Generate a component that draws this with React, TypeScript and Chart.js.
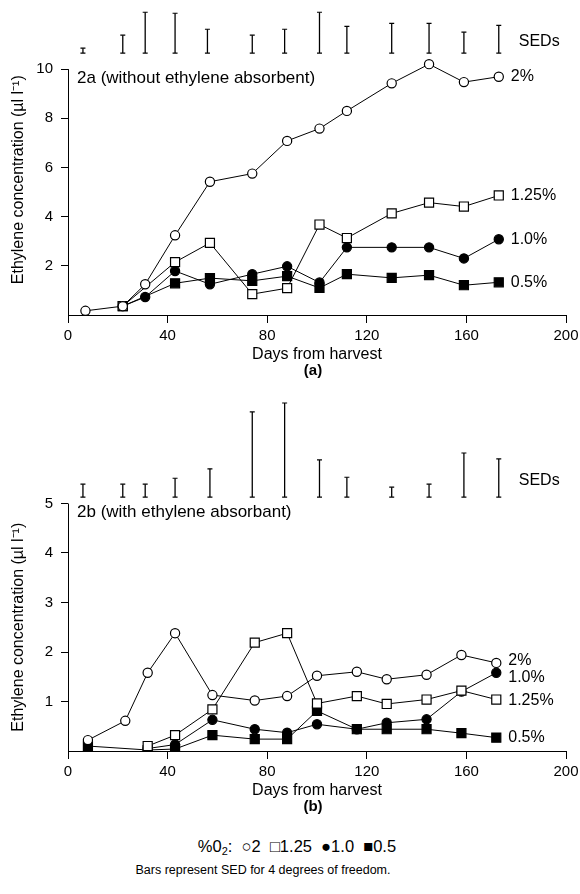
import React, { useEffect, useRef } from "react";
import { Chart, registerables } from "chart.js";
Chart.register(...registerables);

const FONT = '"Liberation Sans", Arial, Helvetica, sans-serif';

// ---------------- data ----------------
const xTickValues = [0, 40, 80, 120, 160, 200];
const topYTickValues = [2, 4, 6, 8, 10];
const bottomYTickValues = [1, 2, 3, 4, 5];

const seriesNames = ["2%", "1.25%", "1.0%", "0.5%"];

// Panel 2a (without ethylene absorbent)
const topDays = [7, 22, 31, 43, 57, 74, 88, 101, 112, 130, 145, 159, 173];
const top2 = [0.17, 0.36, 1.25, 3.24, 5.42, 5.75, 7.08, 7.58, 8.3, 9.42, 10.2, 9.47, 9.69];
const top125 = [null, 0.36, null, 2.15, 2.93, 0.85, 1.09, 3.68, 3.13, 4.13, 4.57, 4.41, 4.86];
const top10 = [null, 0.36, 0.73, 1.79, 1.25, 1.66, 1.98, 1.32, 2.75, 2.75, 2.75, 2.3, 3.08];
const top05 = [null, 0.36, null, 1.29, 1.5, 1.39, 1.58, 1.1, 1.66, 1.51, 1.62, 1.21, 1.33];
const topSedDays = [6, 22, 31, 43, 56, 74, 87, 101, 112, 130, 145, 159, 173];
const topSed = [0.2, 0.73, 1.66, 1.62, 0.97, 0.73, 0.97, 1.66, 1.09, 1.21, 1.21, 0.85, 1.13];
const topSedBase = 10.65;

// Panel 2b (with ethylene absorbant)
const bottomDays = [8, 23, 32, 43, 58, 75, 88, 100, 116, 128, 144, 158, 172];
const bottom2 = [0.22, 0.61, 1.58, 2.38, 1.13, 1.02, 1.11, 1.52, 1.6, 1.45, 1.54, 1.94, 1.78];
const bottom125 = [null, null, 0.1, 0.32, 0.84, 2.19, 2.38, 0.96, 1.11, 0.95, 1.04, 1.22, 1.04];
const bottom10 = [null, null, 0.05, 0.13, 0.63, 0.44, 0.37, 0.54, 0.44, 0.57, 0.64, 1.2, 1.58];
const bottom05 = [0.1, null, 0.02, 0.04, 0.32, 0.24, 0.24, 0.81, 0.44, 0.44, 0.44, 0.36, 0.27];
const bottomSedDays = [6, 22, 31, 43, 57, 74, 87, 101, 112, 130, 145, 159, 173];
const bottomSed = [0.26, 0.26, 0.26, 0.38, 0.57, 1.72, 1.9, 0.75, 0.4, 0.2, 0.26, 0.89, 0.77];
const bottomSedBase = 5.13;

// ---------------- helpers ----------------
function pts(days: number[], vals: (number | null)[]) {
  return days.map((d, i) => ({ x: d, y: vals[i] }));
}
function sedPts(days: number[], seds: number[], base: number) {
  const out: { x: number; y: number | null }[] = [];
  days.forEach((d, i) => {
    out.push({ x: d, y: base }, { x: d, y: base + seds[i] }, { x: d, y: null });
  });
  return out;
}

const decorPlugin = {
  id: "decor",
  beforeDatasetsDraw(chart: any, _a: any, opts: any) {
    const { ctx, scales, chartArea } = chart;
    const y = scales.y;
    ctx.save();
    ctx.strokeStyle = "#000";
    ctx.lineWidth = 1;
    const ax = Math.round(chartArea.left) + 0.5;
    ctx.beginPath();
    ctx.moveTo(ax, y.getPixelForValue(0));
    ctx.lineTo(ax, y.getPixelForValue(opts.axisTop));
    ctx.stroke();
    ctx.restore();
  },
  afterDatasetsDraw(chart: any, _a: any, opts: any) {
    const { ctx, scales, chartArea } = chart;
    const x = scales.x;
    const y = scales.y;
    ctx.save();
    ctx.fillStyle = "#000";
    ctx.textAlign = "left";
    ctx.textBaseline = "middle";
    // panel label
    ctx.font = `17px ${FONT}`;
    ctx.fillText(opts.panelLabel, chartArea.left + 9, y.getPixelForValue(opts.axisTop) + 9);
    // end labels
    ctx.font = `16px ${FONT}`;
    chart.data.datasets.forEach((ds: any) => {
      if (!ds.endLabel) return;
      const valid = ds.data.filter((p: any) => p.y != null);
      const last = valid[valid.length - 1];
      ctx.fillText(ds.endLabel, x.getPixelForValue(last.x) + 12, y.getPixelForValue(last.y) + (ds.endLabelDy || 0));
    });
    // SEDs label
    const lastSedDay = opts.sedDays[opts.sedDays.length - 1];
    ctx.fillText("SEDs", x.getPixelForValue(lastSedDay) + 20, y.getPixelForValue(opts.sedBase) + opts.sedLabelDy);
    // y title
    ctx.translate(opts.yTitleX, y.getPixelForValue(opts.yTitleCenter));
    ctx.rotate(-Math.PI / 2);
    ctx.textAlign = "center";
    ctx.font = `16px ${FONT}`;
    ctx.fillText("Ethylene concentration (µl l⁻¹)", 0, 0);
    ctx.restore();
  },
};

type PanelProps = {
  top: number;
  height: number;
  padTop: number;
  yMax: number;
  yTicks: number[];
  axisTop: number;
  days: number[];
  series: (number | null)[][];
  endDy: number[];
  sedDays: number[];
  sed: number[];
  sedBase: number;
  sedLabelDy: number;
  panelLabel: string;
  yTitleCenter: number;
};

function Panel(p: PanelProps) {
  const ref = useRef<HTMLCanvasElement | null>(null);
  useEffect(() => {
    if (!ref.current) return;
    const styles = [
      { pointStyle: "circle", bg: "#fff", r: 4.6 },
      { pointStyle: "rect", bg: "#fff", r: 6.4 },
      { pointStyle: "circle", bg: "#000", r: 4.6 },
      { pointStyle: "rect", bg: "#000", r: 6.4 },
    ];
    const datasets: any[] = p.series.map((vals, i) => ({
      type: "line",
      data: pts(p.days, vals),
      borderColor: "#000",
      borderWidth: 1,
      pointStyle: styles[i].pointStyle,
      pointRadius: styles[i].r,
      pointBackgroundColor: styles[i].bg,
      pointBorderColor: "#000",
      pointBorderWidth: 1.2,
      spanGaps: true,
      tension: 0,
      endLabel: seriesNames[i],
      endLabelDy: p.endDy[i],
    }));
    datasets.push({
      type: "line",
      data: sedPts(p.sedDays, p.sed, p.sedBase),
      borderColor: "#000",
      borderWidth: 1.3,
      pointStyle: "line",
      pointRadius: 2.5,
      pointBorderColor: "#000",
      pointBorderWidth: 1.2,
      spanGaps: false,
    });
    const chart = new Chart(ref.current, {
      type: "line",
      data: { datasets },
      plugins: [decorPlugin],
      options: {
        responsive: false,
        maintainAspectRatio: false,
        animation: false,
        events: [],
        layout: { padding: { top: p.padTop, left: 0, right: 14, bottom: 0 } },
        plugins: {
          legend: { display: false },
          tooltip: { enabled: false },
          decor: {
            axisTop: p.axisTop,
            panelLabel: p.panelLabel,
            sedDays: p.sedDays,
            sedBase: p.sedBase,
            sedLabelDy: p.sedLabelDy,
            yTitleX: 19,
            yTitleCenter: p.yTitleCenter,
          },
        } as any,
        scales: {
          x: {
            type: "linear",
            min: 0,
            max: 200,
            afterBuildTicks: (s: any) => {
              s.ticks = xTickValues.map((v) => ({ value: v }));
            },
            afterFit: (s: any) => {
              s.height = 50;
              s.paddingLeft = 0;
              s.paddingRight = 0;
            },
            grid: { drawOnChartArea: false, drawTicks: true, tickLength: 8, color: "#000", lineWidth: 1 },
            border: { display: true, color: "#000", width: 1 },
            ticks: { font: { family: FONT, size: 15 }, color: "#000", padding: 4, maxRotation: 0, autoSkip: false },
            title: {
              display: true,
              text: "Days from harvest",
              font: { family: FONT, size: 16 },
              color: "#000",
              padding: { top: 0, bottom: 1 },
            },
          },
          y: {
            type: "linear",
            min: 0,
            max: p.yMax,
            afterBuildTicks: (s: any) => {
              s.ticks = p.yTicks.map((v) => ({ value: v }));
            },
            afterFit: (s: any) => {
              s.width = 68;
              s.paddingTop = 0;
              s.paddingBottom = 0;
            },
            grid: { drawOnChartArea: false, drawTicks: true, tickLength: 7, color: "#000", lineWidth: 1 },
            border: { display: false },
            ticks: { font: { family: FONT, size: 15 }, color: "#000", padding: 8 },
          },
        },
      } as any,
    });
    return () => chart.destroy();
  }, []);
  return (
    <canvas
      ref={ref}
      width={580}
      height={p.height}
      style={{ position: "absolute", left: 0, top: p.top, width: 580, height: p.height, display: "block" }}
    />
  );
}

const textStyle: React.CSSProperties = {
  position: "absolute",
  fontFamily: FONT,
  color: "#000",
  whiteSpace: "nowrap",
  textAlign: "center",
};

export default function App() {
  return (
    <div style={{ position: "absolute", left: 0, top: 0, width: 580, height: 894, background: "#fff", overflow: "hidden" }}>
      <Panel
        top={0}
        height={365}
        padTop={6.25}
        yMax={12.5}
        yTicks={topYTickValues}
        axisTop={10}
        days={topDays}
        series={[top2, top125, top10, top05]}
        endDy={[0, 0, 0, 0]}
        sedDays={topSedDays}
        sed={topSed}
        sedBase={topSedBase}
        sedLabelDy={-12}
        panelLabel="2a (without ethylene absorbent)"
        yTitleCenter={5.5}
      />
      <div style={{ ...textStyle, left: 0, width: 626, top: 361, fontSize: 15, fontWeight: "bold", lineHeight: "18px" }}>(a)</div>
      <Panel
        top={380}
        height={421}
        padTop={14.6}
        yMax={7.2}
        yTicks={bottomYTickValues}
        axisTop={5}
        days={bottomDays}
        series={[bottom2, bottom125, bottom10, bottom05]}
        endDy={[-2, 1, 5, 0]}
        sedDays={bottomSedDays}
        sed={bottomSed}
        sedBase={bottomSedBase}
        sedLabelDy={-16}
        panelLabel="2b (with ethylene absorbant)"
        yTitleCenter={2.5}
      />
      <div style={{ ...textStyle, left: 0, width: 626, top: 797, fontSize: 15, fontWeight: "bold", lineHeight: "18px" }}>(b)</div>
      <div style={{ ...textStyle, left: 0, width: 594, top: 837, fontSize: 16.5, lineHeight: "19px" }}>
        %0<sub style={{ fontSize: 11, verticalAlign: "-3px", lineHeight: 0 }}>2</sub>:&nbsp; ○2 &nbsp;□1.25 &nbsp;●1.0 &nbsp;■0.5
      </div>
      <div style={{ ...textStyle, left: 0, width: 526, top: 863, fontSize: 12.5, lineHeight: "15px" }}>
        Bars represent SED for 4 degrees of freedom.
      </div>
    </div>
  );
}
